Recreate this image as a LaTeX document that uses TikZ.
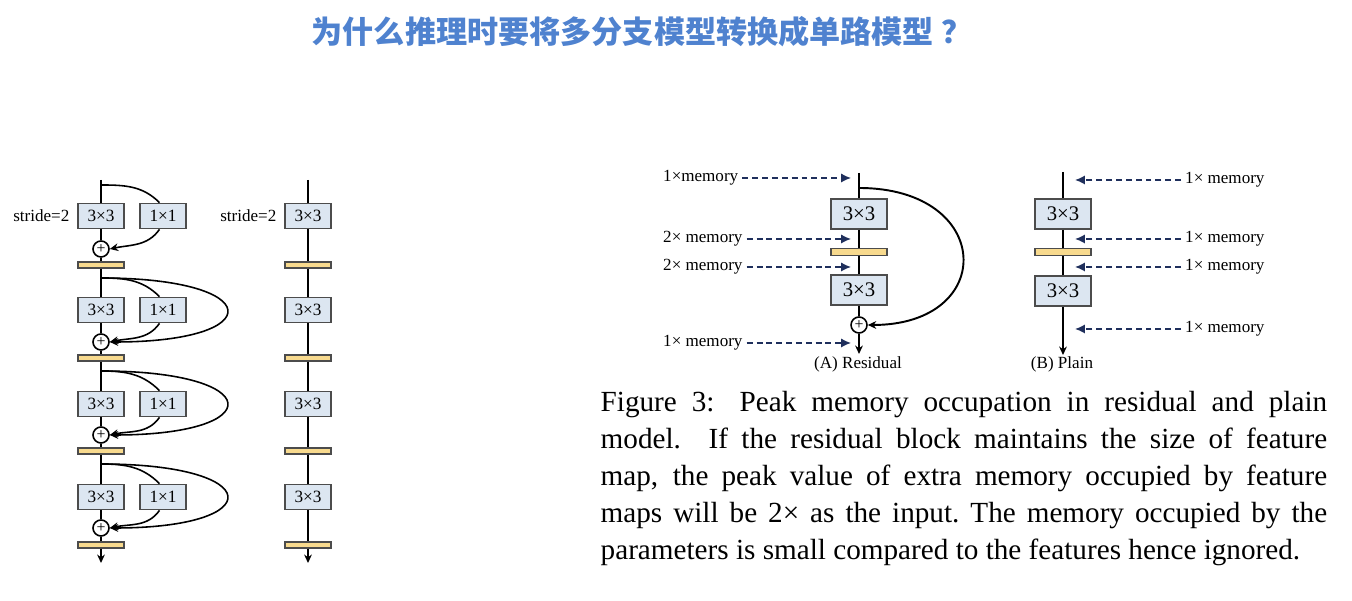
\documentclass[tikz,border=0pt]{standalone}
\usepackage{fontspec}
\setmainfont{Liberation Serif}
\newfontfamily\cjk{Noto Sans CJK SC}
\usepackage{xcolor}
\usetikzlibrary{arrows.meta,positioning}
\definecolor{convfill}{HTML}{DCE6F1}
\definecolor{bnfill}{HTML}{F8DA8E}
\definecolor{memblue}{HTML}{1F2F5C}
\definecolor{titleblue}{HTML}{4F82CF}

\begin{document}
\begin{tikzpicture}[x=0.01cm,y=-0.01cm,
  conv/.style={rectangle,draw=black!70,fill=convfill,line width=0.5pt,minimum width=0.46cm,minimum height=0.25cm,inner sep=0pt,font=\fontsize{4.9}{5}\selectfont},
  bigconv/.style={conv,minimum width=0.56cm,minimum height=0.30cm,font=\fontsize{5.9}{6}\selectfont},
  bn/.style={rectangle,draw=black!70,fill=bnfill,line width=0.5pt,minimum width=0.46cm,minimum height=0.06cm,inner sep=0pt},
  bigbn/.style={bn,minimum width=0.56cm,minimum height=0.07cm},
  addop/.style={circle,draw,fill=white,line width=0.45pt,minimum size=0.16cm,inner sep=0pt,font=\fontsize{4.5}{4.5}\selectfont},
  wire/.style={line width=0.45pt},
  flow/.style={wire,-{Stealth[length=2.4pt,width=2.2pt]}},
  mem/.style={line width=0.45pt,draw=memblue,dash pattern=on 1.7pt off 1.1pt,-{Latex[length=2.8pt,width=2.6pt]}},
  lbl/.style={font=\fontsize{4.85}{5}\selectfont,inner sep=1pt}]
  \useasboundingbox (0,0) rectangle (1352,601);

  \node[font=\cjk\bfseries\fontsize{8.85}{10}\selectfont,text=titleblue] (title) at (642,32) {为什么推理时要将多分支模型转换成单路模型 ？};

  % multi-branch (training) stack
  \coordinate (in1) at (101,180);
  \coordinate (sp1) at (101,185);
  \node[conv] (k1) at (101,216) {3×3};
  \node[conv] (p1) at (163,216) {1×1};
  \node[lbl,left=1pt of k1] (s1) {stride=2};
  \node[addop] (a1) at (101,249) {+};
  \node[bn] (b1) at (101,265) {};
  \draw[wire] (in1) -- (k1) -- (a1) -- (b1);
  \draw[wire] (sp1) to[out=0,in=135] ([xshift=-1pt]p1.north);
  \draw[flow] ([xshift=-1pt]p1.south) to[out=-125,in=12] (a1.east);

  \coordinate (sp2) at (101,278);
  \node[conv] (k2) at (101,310) {3×3};
  \node[conv] (p2) at (163,310) {1×1};
  \node[addop] (a2) at (101,342) {+};
  \node[bn] (b2) at (101,358) {};
  \draw[wire] (b1) -- (k2) -- (a2) -- (b2);
  \draw[wire] (sp2) to[out=0,in=135] ([xshift=-1pt]p2.north);
  \draw[flow] ([xshift=-1pt]p2.south) to[out=-125,in=12] (a2.east);
  \draw[flow] (sp2) .. controls +(165,0) and +(160,0) .. (a2.east);

  \coordinate (sp3) at (101,371);
  \node[conv] (k3) at (101,404) {3×3};
  \node[conv] (p3) at (163,404) {1×1};
  \node[addop] (a3) at (101,435) {+};
  \node[bn] (b3) at (101,451) {};
  \draw[wire] (b2) -- (k3) -- (a3) -- (b3);
  \draw[wire] (sp3) to[out=0,in=135] ([xshift=-1pt]p3.north);
  \draw[flow] ([xshift=-1pt]p3.south) to[out=-125,in=12] (a3.east);
  \draw[flow] (sp3) .. controls +(165,0) and +(160,0) .. (a3.east);

  \coordinate (sp4) at (101,464);
  \node[conv] (k4) at (101,497) {3×3};
  \node[conv] (p4) at (163,497) {1×1};
  \node[addop] (a4) at (101,528) {+};
  \node[bn] (b4) at (101,545) {};
  \draw[wire] (b3) -- (k4) -- (a4) -- (b4);
  \draw[wire] (sp4) to[out=0,in=135] ([xshift=-1pt]p4.north);
  \draw[flow] ([xshift=-1pt]p4.south) to[out=-125,in=12] (a4.east);
  \draw[flow] (sp4) .. controls +(165,0) and +(160,0) .. (a4.east);
  \coordinate (out1) at (101,563);
  \draw[flow] (b4) -- (out1);

  % single-path (inference) stack
  \coordinate (in2) at (308,180);
  \node[conv] (c1) at (308,216) {3×3};
  \node[lbl,left=1pt of c1] (s2) {stride=2};
  \node[bn] (m1) at (308,265) {};
  \node[conv] (c2) at (308,310) {3×3};
  \node[bn] (m2) at (308,358) {};
  \node[conv] (c3) at (308,404) {3×3};
  \node[bn] (m3) at (308,451) {};
  \node[conv] (c4) at (308,497) {3×3};
  \node[bn] (m4) at (308,545) {};
  \coordinate (out2) at (308,563);
  \draw[wire] (in2) -- (c1) -- (m1) -- (c2) -- (m2) -- (c3) -- (m3) -- (c4) -- (m4);
  \draw[flow] (m4) -- (out2);

  % (A) residual block with memory marks
  \coordinate (inA) at (859,173);
  \coordinate (spA) at (859,188);
  \node[bigconv] (rk1) at (859,214) {3×3};
  \node[bigbn] (rbn) at (859,252) {};
  \node[bigconv] (rk2) at (859,290) {3×3};
  \node[addop] (radd) at (859,325) {+};
  \coordinate (outA) at (859,354);
  \node[lbl] (capA) at (858,364) {(A) Residual};
  \draw[wire] (inA) -- (rk1) -- (rbn) -- (rk2) -- (radd);
  \draw[flow] (radd) -- (outA);
  \draw[flow,line width=0.55pt] (spA) .. controls +(135,0) and +(130,0) .. (radd.east);

  \node[lbl,anchor=west] (mA1) at (659,178) {1×memory};
  \node[lbl,anchor=west] (mA2) at (659,239) {2× memory};
  \node[lbl,anchor=west] (mA3) at (659,267) {2× memory};
  \node[lbl,anchor=west] (mA4) at (659,343) {1× memory};
  \coordinate (tA1) at (851,178);
  \coordinate (tA2) at (851,239);
  \coordinate (tA3) at (851,267);
  \coordinate (tA4) at (851,343);
  \draw[mem] (mA1) -- (tA1);
  \draw[mem] (mA2) -- (tA2);
  \draw[mem] (mA3) -- (tA3);
  \draw[mem] (mA4) -- (tA4);

  % (B) plain block with memory marks
  \coordinate (inB) at (1063,172);
  \node[bigconv] (pk1) at (1063,214) {3×3};
  \node[bigbn] (pbn) at (1063,252) {};
  \node[bigconv] (pk2) at (1063,291) {3×3};
  \coordinate (outB) at (1063,355);
  \node[lbl] (capB) at (1062,364) {(B) Plain};
  \draw[wire] (inB) -- (pk1) -- (pbn) -- (pk2);
  \draw[flow] (pk2) -- (outB);

  \node[lbl,anchor=west] (mB1) at (1181,180) {1× memory};
  \node[lbl,anchor=west] (mB2) at (1181,239) {1× memory};
  \node[lbl,anchor=west] (mB3) at (1181,267) {1× memory};
  \node[lbl,anchor=west] (mB4) at (1181,329) {1× memory};
  \coordinate (tB1) at (1075,180);
  \coordinate (tB2) at (1075,239);
  \coordinate (tB3) at (1075,267);
  \coordinate (tB4) at (1075,329);
  \draw[mem] (mB1) -- (tB1);
  \draw[mem] (mB2) -- (tB2);
  \draw[mem] (mB3) -- (tB3);
  \draw[mem] (mB4) -- (tB4);

  \node[anchor=north west,inner sep=0pt,text width=7.26cm,align=justify,
        font=\fontsize{8.3}{10.5}\selectfont] (caption) at (600,391)
    {\parfillskip=0pt Figure 3:  Peak memory occupation in residual and plain\linebreak
     model.  If the residual block maintains the size of feature\linebreak
     map, the peak value of extra memory occupied by feature\linebreak
     maps will be 2× as the input.\ The memory occupied by the\linebreak
     parameters is small compared to the features hence ignored.};
\end{tikzpicture}
\end{document}
